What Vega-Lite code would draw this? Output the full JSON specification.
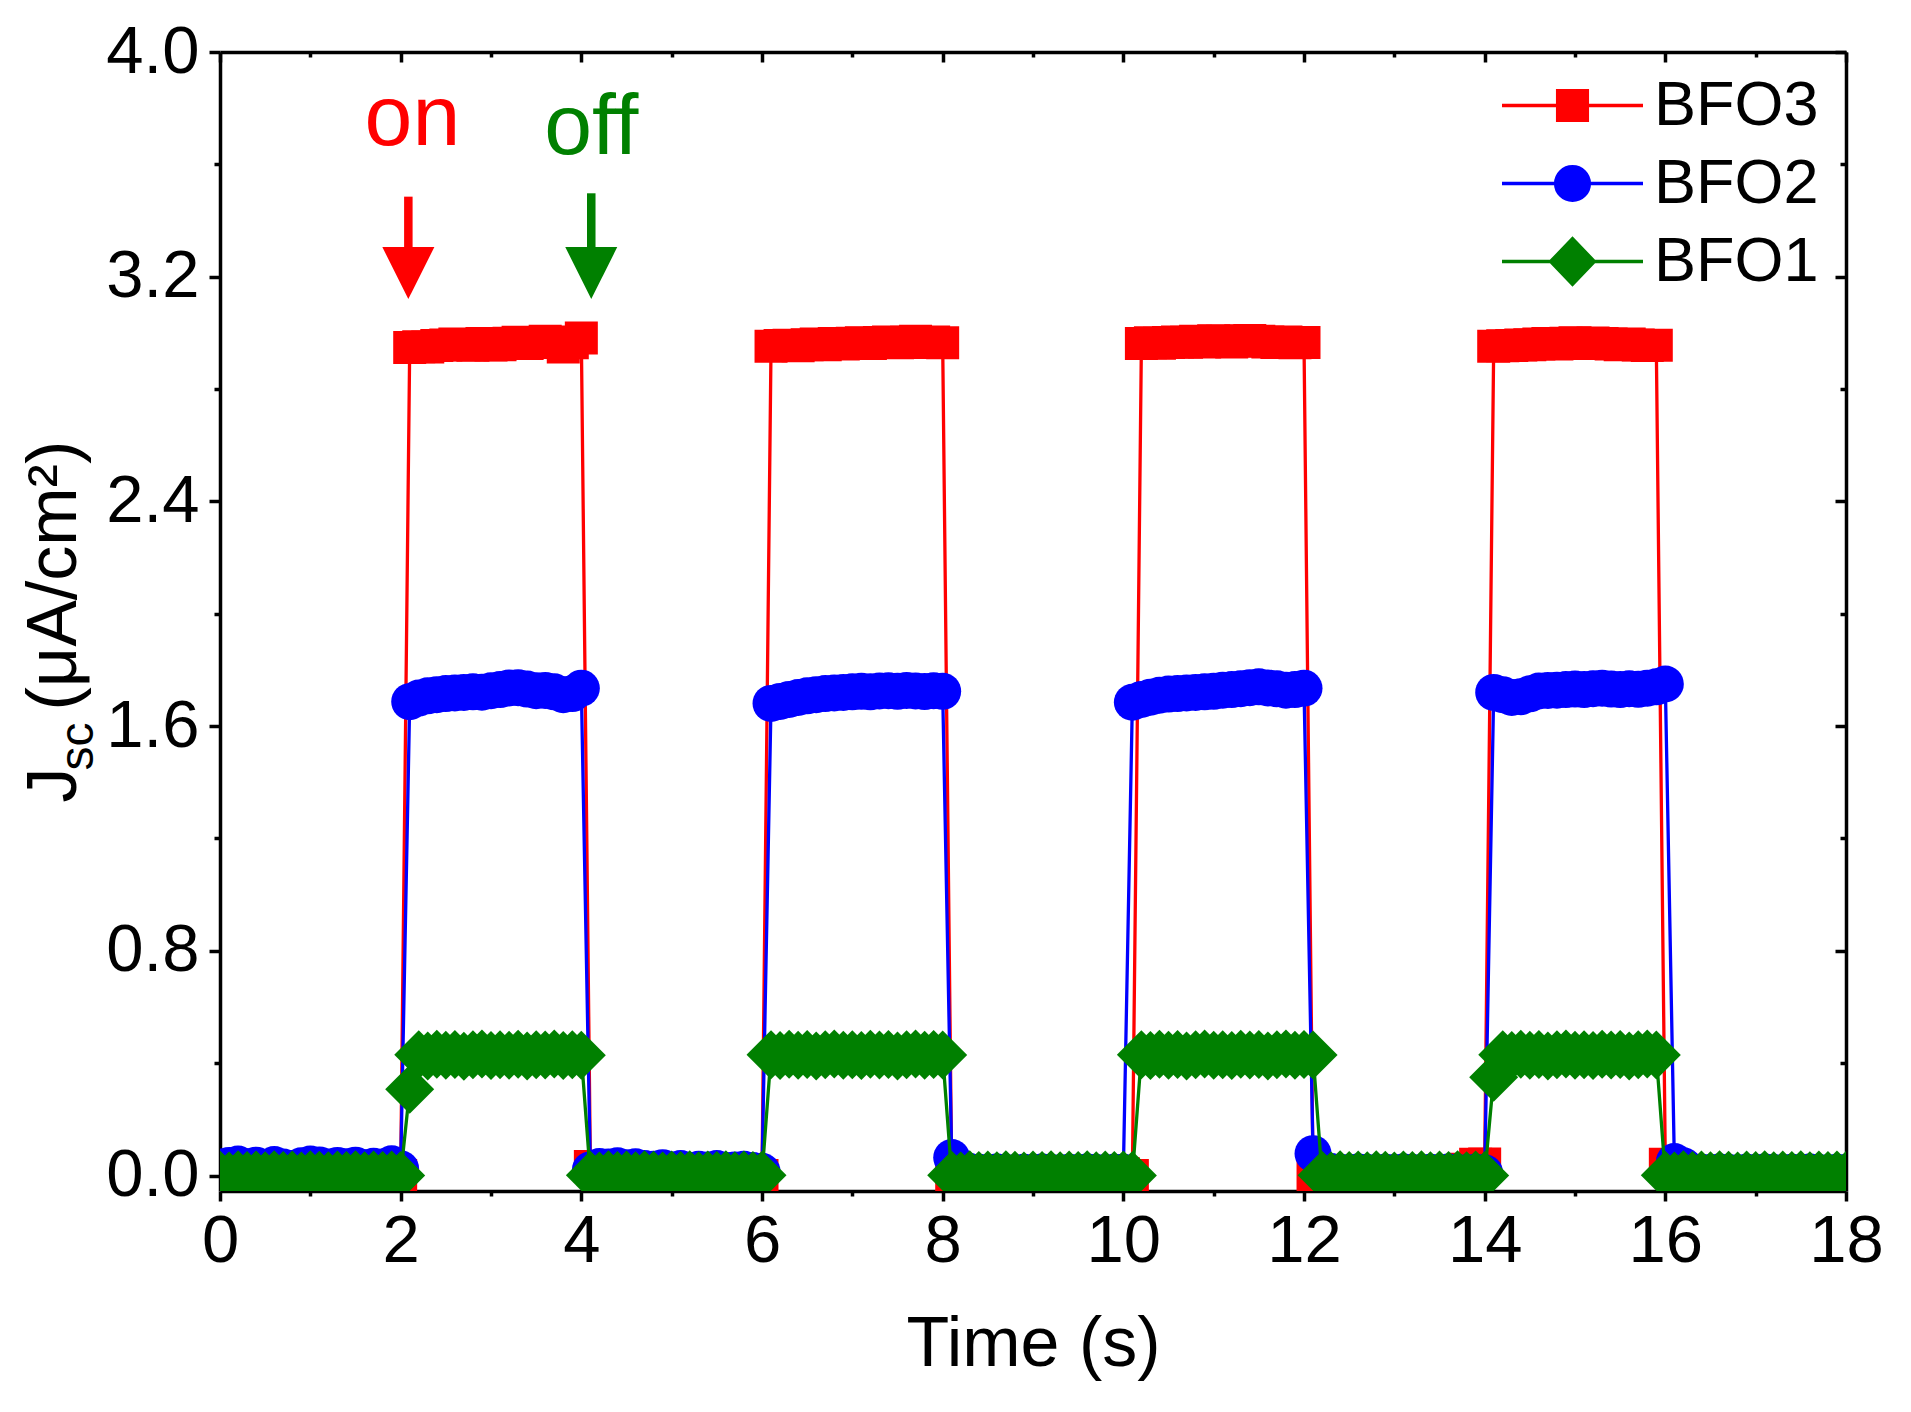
{
  "$schema": "https://vega.github.io/schema/vega-lite/v6.json",
  "background": "white",
  "autosize": {"type": "none"},
  "padding": {"left": 220, "top": 52, "right": 65, "bottom": 221},
  "width": 1626,
  "height": 1139,
  "datasets": {
    "pulses": [
      {"t":0.0,"BFO3":0.005,"BFO2":0.030,"BFO1":0.002},
      {"t":0.1,"BFO3":0.008,"BFO2":0.036,"BFO1":-0.002},
      {"t":0.2,"BFO3":0.004,"BFO2":0.041,"BFO1":0.003},
      {"t":0.3,"BFO3":0.006,"BFO2":0.031,"BFO1":0.000},
      {"t":0.4,"BFO3":0.010,"BFO2":0.037,"BFO1":0.002},
      {"t":0.5,"BFO3":0.005,"BFO2":0.026,"BFO1":-0.001},
      {"t":0.6,"BFO3":0.007,"BFO2":0.039,"BFO1":0.003},
      {"t":0.7,"BFO3":0.004,"BFO2":0.030,"BFO1":0.000},
      {"t":0.8,"BFO3":0.008,"BFO2":0.025,"BFO1":0.002},
      {"t":0.9,"BFO3":0.006,"BFO2":0.035,"BFO1":-0.002},
      {"t":1.0,"BFO3":0.005,"BFO2":0.041,"BFO1":0.003},
      {"t":1.1,"BFO3":0.009,"BFO2":0.038,"BFO1":0.001},
      {"t":1.2,"BFO3":0.006,"BFO2":0.030,"BFO1":-0.001},
      {"t":1.3,"BFO3":0.004,"BFO2":0.036,"BFO1":0.002},
      {"t":1.4,"BFO3":0.007,"BFO2":0.031,"BFO1":0.000},
      {"t":1.5,"BFO3":0.005,"BFO2":0.037,"BFO1":0.003},
      {"t":1.6,"BFO3":0.008,"BFO2":0.028,"BFO1":-0.001},
      {"t":1.7,"BFO3":0.006,"BFO2":0.033,"BFO1":0.002},
      {"t":1.8,"BFO3":0.004,"BFO2":0.030,"BFO1":0.000},
      {"t":1.9,"BFO3":0.006,"BFO2":0.042,"BFO1":0.002},
      {"t":2.0,"BFO3":0.000,"BFO2":0.024,"BFO1":0.000},
      {"t":2.1,"BFO3":2.948,"BFO2":1.687,"BFO1":0.307},
      {"t":2.2,"BFO3":2.951,"BFO2":1.700,"BFO1":0.430},
      {"t":2.3,"BFO3":2.950,"BFO2":1.708,"BFO1":0.426},
      {"t":2.4,"BFO3":2.955,"BFO2":1.712,"BFO1":0.432},
      {"t":2.5,"BFO3":2.957,"BFO2":1.716,"BFO1":0.428},
      {"t":2.6,"BFO3":2.960,"BFO2":1.718,"BFO1":0.431},
      {"t":2.7,"BFO3":2.958,"BFO2":1.720,"BFO1":0.425},
      {"t":2.8,"BFO3":2.956,"BFO2":1.722,"BFO1":0.430},
      {"t":2.9,"BFO3":2.962,"BFO2":1.721,"BFO1":0.433},
      {"t":3.0,"BFO3":2.957,"BFO2":1.726,"BFO1":0.427},
      {"t":3.1,"BFO3":2.958,"BFO2":1.730,"BFO1":0.430},
      {"t":3.2,"BFO3":2.963,"BFO2":1.736,"BFO1":0.428},
      {"t":3.3,"BFO3":2.967,"BFO2":1.737,"BFO1":0.432},
      {"t":3.4,"BFO3":2.962,"BFO2":1.732,"BFO1":0.426},
      {"t":3.5,"BFO3":2.966,"BFO2":1.726,"BFO1":0.430},
      {"t":3.6,"BFO3":2.970,"BFO2":1.727,"BFO1":0.429},
      {"t":3.7,"BFO3":2.968,"BFO2":1.722,"BFO1":0.433},
      {"t":3.8,"BFO3":2.950,"BFO2":1.712,"BFO1":0.427},
      {"t":3.9,"BFO3":2.965,"BFO2":1.716,"BFO1":0.430},
      {"t":4.0,"BFO3":2.982,"BFO2":1.735,"BFO1":0.428},
      {"t":4.1,"BFO3":0.032,"BFO2":0.020,"BFO1":0.001},
      {"t":4.2,"BFO3":0.008,"BFO2":0.032,"BFO1":-0.002},
      {"t":4.3,"BFO3":0.005,"BFO2":0.030,"BFO1":0.003},
      {"t":4.4,"BFO3":0.007,"BFO2":0.035,"BFO1":0.000},
      {"t":4.5,"BFO3":0.004,"BFO2":0.028,"BFO1":0.002},
      {"t":4.6,"BFO3":0.006,"BFO2":0.031,"BFO1":-0.001},
      {"t":4.7,"BFO3":0.008,"BFO2":0.025,"BFO1":0.003},
      {"t":4.8,"BFO3":0.005,"BFO2":0.022,"BFO1":0.001},
      {"t":4.9,"BFO3":0.004,"BFO2":0.028,"BFO1":-0.002},
      {"t":5.0,"BFO3":0.007,"BFO2":0.020,"BFO1":0.002},
      {"t":5.1,"BFO3":0.006,"BFO2":0.025,"BFO1":0.000},
      {"t":5.2,"BFO3":0.005,"BFO2":0.018,"BFO1":0.003},
      {"t":5.3,"BFO3":0.008,"BFO2":0.022,"BFO1":-0.001},
      {"t":5.4,"BFO3":0.004,"BFO2":0.020,"BFO1":0.002},
      {"t":5.5,"BFO3":0.006,"BFO2":0.025,"BFO1":0.000},
      {"t":5.6,"BFO3":0.007,"BFO2":0.018,"BFO1":0.003},
      {"t":5.7,"BFO3":0.005,"BFO2":0.020,"BFO1":-0.001},
      {"t":5.8,"BFO3":0.004,"BFO2":0.022,"BFO1":0.002},
      {"t":5.9,"BFO3":0.006,"BFO2":0.018,"BFO1":0.000},
      {"t":6.0,"BFO3":0.000,"BFO2":0.015,"BFO1":0.001},
      {"t":6.1,"BFO3":2.952,"BFO2":1.681,"BFO1":0.430},
      {"t":6.2,"BFO3":2.955,"BFO2":1.688,"BFO1":0.427},
      {"t":6.3,"BFO3":2.956,"BFO2":1.695,"BFO1":0.432},
      {"t":6.4,"BFO3":2.954,"BFO2":1.702,"BFO1":0.428},
      {"t":6.5,"BFO3":2.958,"BFO2":1.708,"BFO1":0.431},
      {"t":6.6,"BFO3":2.960,"BFO2":1.712,"BFO1":0.426},
      {"t":6.7,"BFO3":2.958,"BFO2":1.716,"BFO1":0.430},
      {"t":6.8,"BFO3":2.962,"BFO2":1.718,"BFO1":0.433},
      {"t":6.9,"BFO3":2.960,"BFO2":1.720,"BFO1":0.428},
      {"t":7.0,"BFO3":2.963,"BFO2":1.722,"BFO1":0.430},
      {"t":7.1,"BFO3":2.965,"BFO2":1.724,"BFO1":0.427},
      {"t":7.2,"BFO3":2.962,"BFO2":1.722,"BFO1":0.432},
      {"t":7.3,"BFO3":2.966,"BFO2":1.725,"BFO1":0.429},
      {"t":7.4,"BFO3":2.968,"BFO2":1.726,"BFO1":0.431},
      {"t":7.5,"BFO3":2.965,"BFO2":1.724,"BFO1":0.426},
      {"t":7.6,"BFO3":2.967,"BFO2":1.727,"BFO1":0.430},
      {"t":7.7,"BFO3":2.970,"BFO2":1.725,"BFO1":0.433},
      {"t":7.8,"BFO3":2.966,"BFO2":1.723,"BFO1":0.428},
      {"t":7.9,"BFO3":2.968,"BFO2":1.726,"BFO1":0.431},
      {"t":8.0,"BFO3":2.965,"BFO2":1.724,"BFO1":0.429},
      {"t":8.1,"BFO3":0.002,"BFO2":0.064,"BFO1":0.001},
      {"t":8.2,"BFO3":0.006,"BFO2":0.020,"BFO1":-0.002},
      {"t":8.3,"BFO3":0.004,"BFO2":0.014,"BFO1":0.003},
      {"t":8.4,"BFO3":0.007,"BFO2":0.012,"BFO1":0.000},
      {"t":8.5,"BFO3":0.005,"BFO2":0.010,"BFO1":0.002},
      {"t":8.6,"BFO3":0.008,"BFO2":0.013,"BFO1":-0.001},
      {"t":8.7,"BFO3":0.004,"BFO2":0.011,"BFO1":0.003},
      {"t":8.8,"BFO3":0.006,"BFO2":0.009,"BFO1":0.001},
      {"t":8.9,"BFO3":0.005,"BFO2":0.012,"BFO1":-0.002},
      {"t":9.0,"BFO3":0.007,"BFO2":0.010,"BFO1":0.002},
      {"t":9.1,"BFO3":0.004,"BFO2":0.013,"BFO1":0.000},
      {"t":9.2,"BFO3":0.006,"BFO2":0.011,"BFO1":0.003},
      {"t":9.3,"BFO3":0.008,"BFO2":0.009,"BFO1":-0.001},
      {"t":9.4,"BFO3":0.005,"BFO2":0.012,"BFO1":0.002},
      {"t":9.5,"BFO3":0.004,"BFO2":0.010,"BFO1":0.000},
      {"t":9.6,"BFO3":0.007,"BFO2":0.013,"BFO1":0.003},
      {"t":9.7,"BFO3":0.006,"BFO2":0.011,"BFO1":-0.001},
      {"t":9.8,"BFO3":0.005,"BFO2":0.009,"BFO1":0.002},
      {"t":9.9,"BFO3":0.004,"BFO2":0.012,"BFO1":0.000},
      {"t":10.0,"BFO3":0.006,"BFO2":0.012,"BFO1":0.002},
      {"t":10.1,"BFO3":0.000,"BFO2":1.685,"BFO1":0.000},
      {"t":10.2,"BFO3":2.962,"BFO2":1.695,"BFO1":0.430},
      {"t":10.3,"BFO3":2.965,"BFO2":1.703,"BFO1":0.427},
      {"t":10.4,"BFO3":2.963,"BFO2":1.710,"BFO1":0.432},
      {"t":10.5,"BFO3":2.966,"BFO2":1.714,"BFO1":0.428},
      {"t":10.6,"BFO3":2.968,"BFO2":1.716,"BFO1":0.431},
      {"t":10.7,"BFO3":2.967,"BFO2":1.718,"BFO1":0.426},
      {"t":10.8,"BFO3":2.970,"BFO2":1.720,"BFO1":0.430},
      {"t":10.9,"BFO3":2.968,"BFO2":1.722,"BFO1":0.433},
      {"t":11.0,"BFO3":2.972,"BFO2":1.724,"BFO1":0.428},
      {"t":11.1,"BFO3":2.970,"BFO2":1.728,"BFO1":0.430},
      {"t":11.2,"BFO3":2.968,"BFO2":1.730,"BFO1":0.427},
      {"t":11.3,"BFO3":2.972,"BFO2":1.733,"BFO1":0.432},
      {"t":11.4,"BFO3":2.973,"BFO2":1.737,"BFO1":0.429},
      {"t":11.5,"BFO3":2.970,"BFO2":1.740,"BFO1":0.431},
      {"t":11.6,"BFO3":2.968,"BFO2":1.736,"BFO1":0.426},
      {"t":11.7,"BFO3":2.966,"BFO2":1.733,"BFO1":0.430},
      {"t":11.8,"BFO3":2.968,"BFO2":1.728,"BFO1":0.433},
      {"t":11.9,"BFO3":2.965,"BFO2":1.730,"BFO1":0.428},
      {"t":12.0,"BFO3":2.966,"BFO2":1.735,"BFO1":0.431},
      {"t":12.1,"BFO3":0.001,"BFO2":0.078,"BFO1":0.429},
      {"t":12.2,"BFO3":0.005,"BFO2":0.020,"BFO1":0.001},
      {"t":12.3,"BFO3":0.007,"BFO2":0.014,"BFO1":-0.002},
      {"t":12.4,"BFO3":0.004,"BFO2":0.012,"BFO1":0.003},
      {"t":12.5,"BFO3":0.006,"BFO2":0.010,"BFO1":0.000},
      {"t":12.6,"BFO3":0.008,"BFO2":0.013,"BFO1":0.002},
      {"t":12.7,"BFO3":0.005,"BFO2":0.011,"BFO1":-0.001},
      {"t":12.8,"BFO3":0.004,"BFO2":0.009,"BFO1":0.003},
      {"t":12.9,"BFO3":0.007,"BFO2":0.012,"BFO1":0.001},
      {"t":13.0,"BFO3":0.006,"BFO2":0.010,"BFO1":-0.002},
      {"t":13.1,"BFO3":0.005,"BFO2":0.013,"BFO1":0.002},
      {"t":13.2,"BFO3":0.008,"BFO2":0.011,"BFO1":0.000},
      {"t":13.3,"BFO3":0.004,"BFO2":0.009,"BFO1":0.003},
      {"t":13.4,"BFO3":0.006,"BFO2":0.012,"BFO1":-0.001},
      {"t":13.5,"BFO3":0.007,"BFO2":0.010,"BFO1":0.002},
      {"t":13.6,"BFO3":0.005,"BFO2":0.013,"BFO1":0.000},
      {"t":13.7,"BFO3":0.010,"BFO2":0.011,"BFO1":0.003},
      {"t":13.8,"BFO3":0.022,"BFO2":0.009,"BFO1":-0.001},
      {"t":13.9,"BFO3":0.040,"BFO2":0.012,"BFO1":0.002},
      {"t":14.0,"BFO3":0.041,"BFO2":0.010,"BFO1":0.000},
      {"t":14.1,"BFO3":2.952,"BFO2":1.720,"BFO1":0.350},
      {"t":14.2,"BFO3":2.954,"BFO2":1.712,"BFO1":0.430},
      {"t":14.3,"BFO3":2.955,"BFO2":1.702,"BFO1":0.427},
      {"t":14.4,"BFO3":2.957,"BFO2":1.705,"BFO1":0.432},
      {"t":14.5,"BFO3":2.958,"BFO2":1.715,"BFO1":0.428},
      {"t":14.6,"BFO3":2.960,"BFO2":1.725,"BFO1":0.431},
      {"t":14.7,"BFO3":2.962,"BFO2":1.727,"BFO1":0.426},
      {"t":14.8,"BFO3":2.960,"BFO2":1.728,"BFO1":0.430},
      {"t":14.9,"BFO3":2.963,"BFO2":1.730,"BFO1":0.433},
      {"t":15.0,"BFO3":2.965,"BFO2":1.732,"BFO1":0.428},
      {"t":15.1,"BFO3":2.962,"BFO2":1.730,"BFO1":0.430},
      {"t":15.2,"BFO3":2.964,"BFO2":1.733,"BFO1":0.427},
      {"t":15.3,"BFO3":2.962,"BFO2":1.735,"BFO1":0.432},
      {"t":15.4,"BFO3":2.960,"BFO2":1.732,"BFO1":0.429},
      {"t":15.5,"BFO3":2.958,"BFO2":1.730,"BFO1":0.431},
      {"t":15.6,"BFO3":2.960,"BFO2":1.733,"BFO1":0.426},
      {"t":15.7,"BFO3":2.957,"BFO2":1.731,"BFO1":0.430},
      {"t":15.8,"BFO3":2.955,"BFO2":1.735,"BFO1":0.433},
      {"t":15.9,"BFO3":2.956,"BFO2":1.740,"BFO1":0.429},
      {"t":16.0,"BFO3":0.040,"BFO2":1.750,"BFO1":0.001},
      {"t":16.1,"BFO3":0.035,"BFO2":0.050,"BFO1":-0.002},
      {"t":16.2,"BFO3":0.008,"BFO2":0.035,"BFO1":0.003},
      {"t":16.3,"BFO3":0.005,"BFO2":0.014,"BFO1":0.000},
      {"t":16.4,"BFO3":0.007,"BFO2":0.012,"BFO1":0.002},
      {"t":16.5,"BFO3":0.004,"BFO2":0.010,"BFO1":-0.001},
      {"t":16.6,"BFO3":0.006,"BFO2":0.013,"BFO1":0.003},
      {"t":16.7,"BFO3":0.008,"BFO2":0.011,"BFO1":0.001},
      {"t":16.8,"BFO3":0.005,"BFO2":0.009,"BFO1":-0.002},
      {"t":16.9,"BFO3":0.004,"BFO2":0.012,"BFO1":0.002},
      {"t":17.0,"BFO3":0.007,"BFO2":0.010,"BFO1":0.000},
      {"t":17.1,"BFO3":0.006,"BFO2":0.013,"BFO1":0.003},
      {"t":17.2,"BFO3":0.005,"BFO2":0.011,"BFO1":-0.001},
      {"t":17.3,"BFO3":0.008,"BFO2":0.009,"BFO1":0.002},
      {"t":17.4,"BFO3":0.004,"BFO2":0.012,"BFO1":0.000},
      {"t":17.5,"BFO3":0.006,"BFO2":0.010,"BFO1":0.003},
      {"t":17.6,"BFO3":0.007,"BFO2":0.013,"BFO1":-0.001},
      {"t":17.7,"BFO3":0.005,"BFO2":0.011,"BFO1":0.002},
      {"t":17.8,"BFO3":0.004,"BFO2":0.009,"BFO1":0.000},
      {"t":17.9,"BFO3":0.006,"BFO2":0.012,"BFO1":0.002},
      {"t":18.0,"BFO3":0.005,"BFO2":0.010,"BFO1":0.000}
    ],
    "notes": [
      {"a": "on", "t": 2.13, "j": 3.669},
      {"a": "off", "t": 4.11, "j": 3.637}
    ],
    "arrows": [
      {"a": "on", "t": 2.085, "j": 3.485, "j2": 3.30, "h": 3.213},
      {"a": "off", "t": 4.11, "j": 3.497, "j2": 3.30, "h": 3.213}
    ]
  },
  "data": {"name": "pulses"},
  "transform": [{"fold": ["BFO3", "BFO2", "BFO1"], "as": ["s", "j"]}],
  "layer": [
    {
      "transform": [{"filter": "datum.s == 'BFO3'"}],
      "mark": {"type": "line", "color": "#ff0000", "strokeWidth": 3.3, "clip": true},
      "encoding": {
        "x": {"field": "t", "type": "quantitative", "scale": {"domain": [0, 18], "nice": false, "zero": false},
          "axis": {"orient": "bottom", "values": [0, 2, 4, 6, 8, 10, 12, 14, 16, 18], "format": "d", "tickSize": 10, "labelPadding": 7,
            "title": "Time (s)", "titleX": 813, "titleY": 174, "titleAlign": "center", "titleBaseline": "alphabetic"}},
        "y": {"field": "j", "type": "quantitative", "scale": {"domain": [-0.055, 4.0], "nice": false, "zero": false},
          "axis": {"orient": "left", "values": [0, 0.8, 1.6, 2.4, 3.2, 4.0], "format": ".1f", "tickSize": 11, "labelPadding": 10,
            "title": "J", "titleAngle": 270, "titleAlign": "left", "titleBaseline": "alphabetic", "titleX": -145, "titleY": 750}}
      }
    },
    {
      "transform": [{"filter": "datum.s == 'BFO3'"}],
      "mark": {"type": "point", "shape": "square", "filled": true, "size": 1089, "color": "#ff0000", "opacity": 1, "clip": true},
      "encoding": {
        "x": {"field": "t", "type": "quantitative",
          "axis": {"orient": "bottom", "values": [1, 3, 5, 7, 9, 11, 13, 15, 17], "tickSize": 5, "labels": false, "domain": false, "title": null}},
        "y": {"field": "j", "type": "quantitative",
          "axis": {"orient": "left", "values": [0.4, 1.2, 2.0, 2.8, 3.6], "tickSize": 6, "labels": false, "domain": false, "title": null}}
      }
    },
    {
      "transform": [{"filter": "datum.s == 'BFO2'"}],
      "mark": {"type": "line", "color": "#0000ff", "strokeWidth": 3.3, "clip": true},
      "encoding": {
        "x": {"field": "t", "type": "quantitative",
          "axis": {"orient": "top", "values": [0, 2, 4, 6, 8, 10, 12, 14, 16, 18], "tickSize": -10, "labels": false, "title": null}},
        "y": {"field": "j", "type": "quantitative",
          "axis": {"orient": "right", "values": [0, 0.8, 1.6, 2.4, 3.2, 4.0], "tickSize": -11, "labels": false, "title": null}}
      }
    },
    {
      "transform": [{"filter": "datum.s == 'BFO2'"}],
      "mark": {"type": "point", "shape": "circle", "filled": true, "size": 1369, "color": "#0000ff", "opacity": 1, "clip": true},
      "encoding": {
        "x": {"field": "t", "type": "quantitative",
          "axis": {"orient": "top", "values": [1, 3, 5, 7, 9, 11, 13, 15, 17], "tickSize": -5, "labels": false, "domain": false, "title": null}},
        "y": {"field": "j", "type": "quantitative",
          "axis": {"orient": "right", "values": [0.4, 1.2, 2.0, 2.8, 3.6], "tickSize": -6, "labels": false, "domain": false, "title": null}}
      }
    },
    {
      "transform": [{"filter": "datum.s == 'BFO1'"}],
      "mark": {"type": "line", "color": "#008000", "strokeWidth": 3.3, "clip": true},
      "encoding": {
        "x": {"field": "t", "type": "quantitative", "axis": null},
        "y": {"field": "j", "type": "quantitative", "axis": null}
      }
    },
    {
      "transform": [{"filter": "datum.s == 'BFO1'"}],
      "mark": {"type": "point", "shape": "diamond", "filled": true, "size": 2401, "color": "#008000", "opacity": 1, "clip": true},
      "encoding": {
        "x": {"field": "t", "type": "quantitative", "axis": null},
        "y": {"field": "j", "type": "quantitative", "axis": null}
      }
    },
    {
      "data": {"name": "notes"},
      "mark": {"type": "text", "fontSize": 86, "font": "Liberation Sans", "align": "center", "baseline": "alphabetic"},
      "encoding": {
        "x": {"field": "t", "type": "quantitative", "axis": null},
        "y": {"field": "j", "type": "quantitative",
          "axis": {"orient": "left", "labels": false, "ticks": false, "domain": false, "title": "sc", "titleFontSize": 48,
            "titleAngle": 270, "titleAlign": "left", "titleBaseline": "alphabetic", "titleX": -128, "titleY": 718}},
        "text": {"field": "a"},
        "color": {"condition": {"test": "datum.a == 'on'", "value": "#ff0000"}, "value": "#008000"}
      }
    },
    {
      "data": {"name": "arrows"},
      "mark": {"type": "rule", "strokeWidth": 8.5},
      "encoding": {
        "x": {"field": "t", "type": "quantitative", "axis": null},
        "y": {"field": "j", "type": "quantitative",
          "axis": {"orient": "left", "labels": false, "ticks": false, "domain": false, "title": "(μA/cm²)",
            "titleAngle": 270, "titleAlign": "left", "titleBaseline": "alphabetic", "titleX": -145, "titleY": 658}},
        "y2": {"field": "j2"},
        "color": {"condition": {"test": "datum.a == 'on'", "value": "#ff0000"}, "value": "#008000"}
      }
    },
    {
      "data": {"name": "arrows"},
      "mark": {"type": "point", "shape": "M-1,-1L1,-1L0,1Z", "filled": true, "size": 2704, "opacity": 1},
      "encoding": {
        "x": {"field": "t", "type": "quantitative", "axis": null},
        "y": {"field": "h", "type": "quantitative", "axis": null},
        "color": {"condition": {"test": "datum.a == 'on'", "value": "#ff0000"}, "value": "#008000"}
      }
    },
    {
      "transform": [{"filter": "false"}],
      "mark": {"type": "point", "filled": true, "opacity": 1, "strokeWidth": 3.3},
      "encoding": {
        "x": {"field": "t", "type": "quantitative", "axis": null},
        "y": {"field": "j", "type": "quantitative", "axis": null},
        "fill": {"field": "s", "type": "nominal",
          "scale": {"domain": ["BFO3", "BFO2", "BFO1"], "range": ["#ff0000", "#0000ff", "#008000"]},
          "legend": {"orient": "none", "legendX": 1321, "legendY": 22, "title": null, "padding": 0, "symbolSize": 2500, "symbolStrokeWidth": 3.3, "labelOffset": 50, "labelLimit": 0, "rowPadding": 14, "labelFontSize": 63, "symbolOpacity": 1}},
        "stroke": {"field": "s", "type": "nominal",
          "scale": {"domain": ["BFO3", "BFO2", "BFO1"], "range": ["#ff0000", "#0000ff", "#008000"]},
          "legend": {"orient": "none", "legendX": 1321, "legendY": 22, "title": null, "padding": 0, "symbolSize": 2500, "symbolStrokeWidth": 3.3, "labelOffset": 50, "labelLimit": 0, "rowPadding": 14, "labelFontSize": 63, "symbolOpacity": 1}},
        "shape": {"field": "s", "type": "nominal",
          "scale": {"domain": ["BFO3", "BFO2", "BFO1"], "range": [
            "M-2.82,0H2.82M-0.596,-0.596H0.596V0.596H-0.596Z",
            "M-2.82,0H2.82M0.676,0A0.676,0.676,0,1,1,-0.676,0A0.676,0.676,0,1,1,0.676,0Z",
            "M-2.82,0H2.82M-0.876,0L0,-0.916L0.876,0L0,0.916Z"]},
          "legend": {"orient": "none", "legendX": 1321, "legendY": 22, "title": null, "padding": 0, "symbolSize": 2500, "symbolStrokeWidth": 3.3, "labelOffset": 50, "labelLimit": 0, "rowPadding": 14, "labelFontSize": 63, "symbolOpacity": 1}}
      }
    }
  ],
  "resolve": {"axis": {"x": "independent", "y": "independent"}},
  "config": {
    "font": "Liberation Sans",
    "view": {"stroke": null},
    "axis": {
      "grid": false,
      "domainColor": "black",
      "domainWidth": 3.5,
      "tickColor": "black",
      "tickWidth": 3.5,
      "labelFont": "Liberation Sans",
      "labelFontSize": 67,
      "labelColor": "black",
      "labelFlush": false,
      "labelOverlap": false,
      "labelBound": false,
      "titleFont": "Liberation Sans",
      "titleFontSize": 70,
      "titleFontWeight": "normal",
      "titleColor": "black"
    },
    "legend": {
      "labelFont": "Liberation Sans",
      "labelColor": "black"
    }
  }
}
